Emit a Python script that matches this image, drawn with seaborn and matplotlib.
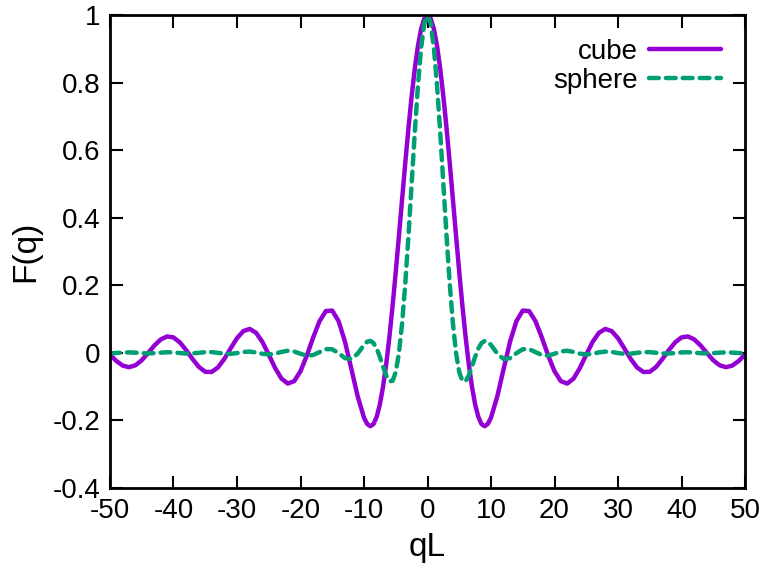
import numpy as np
import pandas as pd
import matplotlib
matplotlib.use("Agg")
import matplotlib.pyplot as plt
import seaborn as sns

# values (curves are symmetric about qL = 0)
q_half = [0, 0.5, 1, 1.5, 2, 2.5, 3, 3.5, 4, 4.5, 5, 5.5, 6, 6.5, 7, 7.5, 8, 8.5, 9, 9.5, 10,
          11, 12, 13, 14, 15, 16, 17, 18, 19, 20, 21, 22, 23, 24, 25, 26, 27, 28, 29, 30,
          31, 32, 33, 34, 35, 36, 37, 38, 39, 40, 41, 42, 43, 44, 45, 46, 47, 48, 49, 50]
cube_half = [1.0, 0.9896, 0.9589, 0.9089, 0.8415, 0.7592, 0.6650, 0.5623, 0.4546, 0.3458, 0.2394,
             0.1388, 0.0470, -0.0333, -0.1002, -0.1524, -0.1892, -0.2106, -0.2172, -0.2104, -0.1918,
             -0.1283, -0.0466, 0.0331, 0.0939, 0.1251, 0.1237, 0.0939, 0.0458, -0.0079, -0.0544,
             -0.0838, -0.0909, -0.0762, -0.0447, -0.0053, 0.0323, 0.0595, 0.0708, 0.0645, 0.0434,
             0.0133, -0.0180, -0.0432, -0.0566, -0.0561, -0.0417, -0.0183, 0.0079, 0.0311, 0.0457,
             0.0486, 0.0398, 0.0221, -0.0004, -0.0219, -0.0368, -0.0424, -0.0377, -0.0241, -0.0053]
sphere_half = [1.0, 0.9752, 0.9035, 0.7924, 0.6531, 0.4995, 0.3457, 0.2048, 0.0871, -0.0010, -0.0571,
               -0.0830, -0.0839, -0.0670, -0.0404, -0.0118, 0.0126, 0.0289, 0.0354, 0.0329, 0.0235,
               -0.0024, -0.0185, -0.0155, -0.0010, 0.0107, 0.0110, 0.0023, -0.0065, -0.0082, -0.0027,
               0.0040, 0.0062, 0.0028, -0.0024, -0.0048, -0.0027, 0.0014, 0.0037, 0.0026, -0.0006,
               -0.0029, -0.0024, 0.0001, 0.0022, 0.0022, 0.0002, -0.0017, -0.0020, -0.0005, 0.0013,
               0.0018, 0.0006, -0.0009, -0.0016, -0.0008, 0.0006, 0.0014, 0.0008, -0.0004, -0.0012]

qL = [-v for v in q_half[:0:-1]] + q_half
cube = cube_half[:0:-1] + cube_half
sphere = sphere_half[:0:-1] + sphere_half

df = pd.DataFrame({"qL": qL, "cube": cube, "sphere": sphere})

sns.set_style("ticks")
plt.rcParams["font.family"] = ["Liberation Sans", "DejaVu Sans"]
plt.rcParams["text.color"] = "black"
plt.rcParams["axes.labelcolor"] = "black"

fig = plt.figure(figsize=(7.69, 5.72), dpi=100)
ax = fig.add_axes([110 / 769, 1 - 488 / 572, 635 / 769, 473 / 572])

sns.lineplot(data=df, x="qL", y="cube", ax=ax, color="#9400D3", lw=3.2, label="cube",
             solid_capstyle="round")
sns.lineplot(data=df, x="qL", y="sphere", ax=ax, color="#009E73", lw=3.2, label="sphere",
             linestyle=(0, (2.2, 1.6)), dash_capstyle="round")

ax.set_xlim(-50, 50)
ax.set_ylim(-0.4, 1)
ax.set_xticks(np.arange(-50, 51, 10))
ax.set_yticks(np.arange(-0.4, 1.01, 0.2))
ax.set_yticklabels(["-0.4", "-0.2", "0", "0.2", "0.4", "0.6", "0.8", "1"])
ax.set_xticklabels([str(t) for t in range(-50, 51, 10)])
ax.tick_params(direction="in", length=9, width=1.5, labelsize=20, top=True, right=True,
               pad=7, colors="black")
for s in ax.spines.values():
    s.set_linewidth(2)
    s.set_color("black")
ax.set_xlabel("qL", fontsize=24, labelpad=6)
ax.set_ylabel("F(q)", fontsize=24, labelpad=8)

leg = ax.legend(loc="upper right", fontsize=20, frameon=False, markerfirst=False,
                handlelength=2.6, handletextpad=0.4, labelspacing=0.12,
                borderaxespad=0.45)

fig.savefig("out.png", dpi=100)
